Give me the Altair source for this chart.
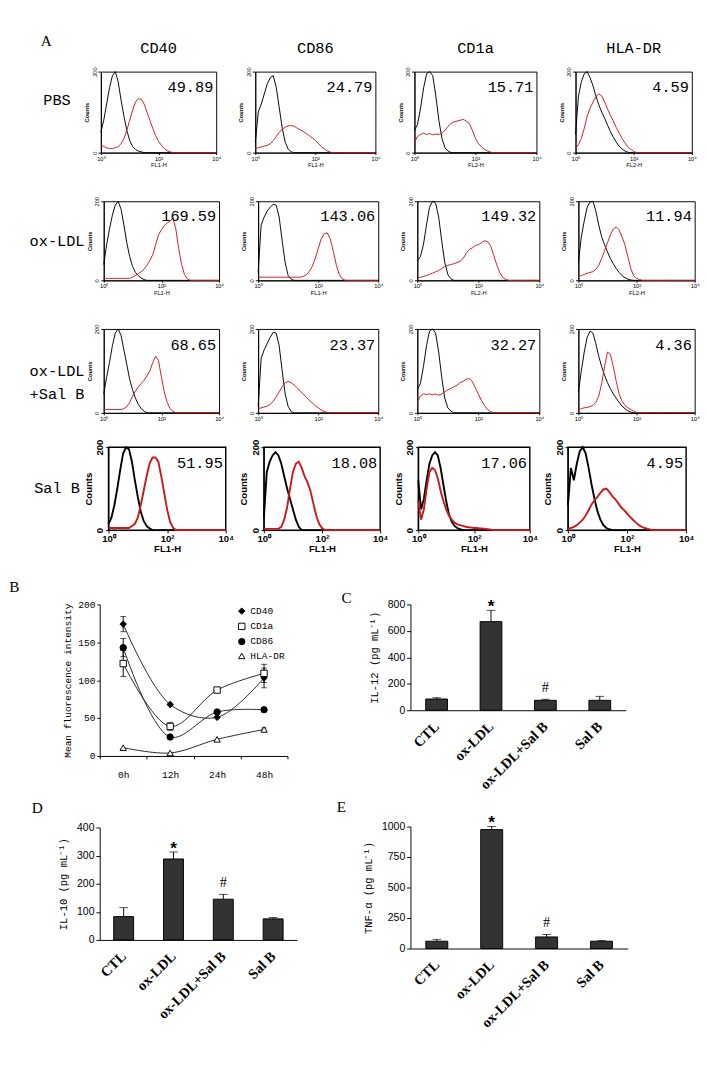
import math
import altair as alt
import pandas as pd

# ---------------- panel A : flow cytometry histograms ----------------
GRID = [0.0, 0.1, 0.2, 0.3, 0.4, 0.5, 0.6, 0.7, 0.8, 0.9,
        1.0, 1.1, 1.2, 1.3, 1.4, 1.5, 1.6, 1.7, 1.8, 1.9,
        2.0, 2.1, 2.2, 2.3, 2.4, 2.5, 2.6, 2.7, 2.8, 2.9,
        3.0, 4.0]

MARKERS = ["CD40", "CD86", "CD1a", "HLA-DR"]
TREATMENTS = ["PBS", "ox-LDL", "ox-LDL\n+Sal B", "Sal B"]

MFI_PBS = [49.89, 24.79, 15.71, 4.59]
MFI_OX = [169.59, 143.06, 149.32, 11.94]
MFI_OXS = [68.65, 23.37, 32.27, 4.36]
MFI_SAL = [51.95, 18.08, 17.06, 4.95]

XTITLES_PBS = ["FL1-H", "FL1-H", "FL2-H", "FL2-H"]
XTITLES_OX = ["FL1-H", "FL1-H", "FL2-H", "FL2-H"]
XTITLES_OXS = ["", "", "", ""]
XTITLES_SAL = ["FL1-H", "FL1-H", "FL1-H", "FL1-H"]

# PBS row
PBS_CD40_ISO = [50, 80, 120, 160, 190, 200, 175, 130, 90, 55,
                30, 15, 8, 4, 2, 0, 0, 0, 0, 0,
                0, 0, 0, 0, 0, 0, 0, 0, 0, 0, 0, 0]
PBS_CD40_MAB = [20, 15, 12, 10, 10, 12, 15, 22, 35, 55,
                80, 105, 125, 133, 132, 120, 100, 80, 60, 42,
                28, 18, 10, 5, 2, 0, 0, 0, 0, 0, 0, 0]
PBS_CD86_ISO = [25, 100, 120, 145, 170, 185, 190, 160, 110, 60,
                25, 8, 2, 0, 0, 0, 0, 0, 0, 0,
                0, 0, 0, 0, 0, 0, 0, 0, 0, 0, 0, 0]
PBS_CD86_MAB = [10, 12, 14, 16, 18, 22, 30, 40, 50, 58,
                63, 66, 67, 65, 60, 56, 52, 47, 42, 36,
                30, 23, 15, 9, 4, 1, 0, 0, 0, 0, 0, 0]
PBS_CD1A_ISO = [55, 70, 110, 160, 195, 200, 190, 140, 80, 35,
                12, 4, 0, 0, 0, 0, 0, 0, 0, 0,
                0, 0, 0, 0, 0, 0, 0, 0, 0, 0, 0, 0]
PBS_CD1A_MAB = [25, 40, 45, 48, 45, 47, 44, 46, 45, 48,
                55, 65, 72, 76, 78, 80, 82, 78, 72, 55,
                35, 22, 14, 8, 4, 1, 0, 0, 0, 0, 0, 0]
PBS_HLA_ISO = [45, 140, 175, 195, 200, 185, 165, 140, 118, 100,
               85, 68, 52, 38, 26, 16, 9, 4, 1, 0,
               0, 0, 0, 0, 0, 0, 0, 0, 0, 0, 0, 0]
PBS_HLA_MAB = [10, 20, 35, 60, 90, 110, 125, 138, 145, 140,
               125, 108, 92, 78, 62, 48, 35, 24, 14, 8,
               3, 0, 0, 0, 0, 0, 0, 0, 0, 0, 0, 0]

# ox-LDL row
OX_CD40_ISO = [40, 90, 130, 165, 190, 200, 180, 140, 95, 60,
               35, 20, 12, 6, 2, 0, 0, 0, 0, 0,
               0, 0, 0, 0, 0, 0, 0, 0, 0, 0, 0, 0]
OX_CD40_MAB = [5, 5, 5, 5, 5, 5, 5, 5, 5, 5,
               8, 12, 17, 22, 28, 38, 50, 65, 90, 115,
               128, 138, 145, 150, 158, 130, 80, 40, 15, 4, 0, 0]
OX_CD86_ISO = [20, 140, 160, 175, 185, 192, 190, 160, 100, 45,
               12, 3, 0, 0, 0, 0, 0, 0, 0, 0,
               0, 0, 0, 0, 0, 0, 0, 0, 0, 0, 0, 0]
OX_CD86_MAB = [8, 8, 8, 8, 8, 8, 8, 8, 8, 8,
               8, 8, 8, 8, 8, 10, 14, 22, 35, 55,
               80, 105, 118, 120, 105, 75, 40, 15, 4, 0, 0, 0]
OX_CD1A_ISO = [50, 60, 90, 140, 185, 200, 195, 160, 100, 45,
               15, 4, 0, 0, 0, 0, 0, 0, 0, 0,
               0, 0, 0, 0, 0, 0, 0, 0, 0, 0, 0, 0]
OX_CD1A_MAB = [5, 8, 10, 12, 15, 18, 22, 25, 30, 35,
               38, 40, 42, 45, 48, 55, 68, 78, 82, 88,
               90, 95, 100, 98, 88, 65, 40, 20, 8, 2, 0, 0]
OX_HLA_ISO = [45, 110, 150, 185, 198, 200, 175, 140, 110, 90,
              72, 55, 42, 30, 20, 12, 7, 3, 1, 0,
              0, 0, 0, 0, 0, 0, 0, 0, 0, 0, 0, 0]
OX_HLA_MAB = [10, 12, 15, 18, 20, 22, 28, 38, 55, 75,
              95, 115, 130, 135, 128, 110, 90, 60, 30, 12,
              5, 2, 0, 0, 0, 0, 0, 0, 0, 0, 0, 0]

# ox-LDL + Sal B row
OXS_CD40_ISO = [45, 85, 120, 160, 190, 200, 185, 150, 115, 80,
                55, 35, 20, 10, 4, 0, 0, 0, 0, 0,
                0, 0, 0, 0, 0, 0, 0, 0, 0, 0, 0, 0]
OXS_CD40_MAB = [8, 8, 8, 8, 8, 8, 8, 10, 15, 25,
                40, 52, 62, 70, 78, 88, 100, 120, 135, 125,
                85, 50, 25, 10, 4, 0, 0, 0, 0, 0, 0, 0]
OXS_CD86_ISO = [15, 130, 150, 165, 180, 192, 190, 160, 100, 45,
                15, 3, 0, 0, 0, 0, 0, 0, 0, 0,
                0, 0, 0, 0, 0, 0, 0, 0, 0, 0, 0, 0]
OXS_CD86_MAB = [10, 12, 14, 16, 20, 28, 38, 50, 62, 72,
                75, 72, 66, 60, 52, 45, 38, 30, 24, 17,
                12, 7, 3, 1, 0, 0, 0, 0, 0, 0, 0, 0]
OXS_CD1A_ISO = [55, 70, 110, 160, 195, 200, 190, 145, 85, 35,
                12, 4, 0, 0, 0, 0, 0, 0, 0, 0,
                0, 0, 0, 0, 0, 0, 0, 0, 0, 0, 0, 0]
OXS_CD1A_MAB = [25, 40, 45, 44, 45, 43, 45, 42, 45, 50,
                55, 58, 62, 66, 72, 75, 80, 82, 75, 60,
                45, 30, 18, 8, 3, 0, 0, 0, 0, 0, 0, 0]
OXS_HLA_ISO = [50, 100, 145, 180, 195, 190, 165, 135, 110, 90,
               72, 58, 45, 35, 25, 16, 10, 5, 2, 0,
               0, 0, 0, 0, 0, 0, 0, 0, 0, 0, 0, 0]
OXS_HLA_MAB = [8, 10, 12, 13, 15, 18, 25, 40, 70, 110,
               145, 140, 110, 75, 45, 28, 18, 12, 8, 4,
               1, 0, 0, 0, 0, 0, 0, 0, 0, 0, 0, 0]

# Sal B row
SAL_CD40_ISO = [15, 30, 60, 100, 145, 185, 200, 195, 165, 120,
                80, 45, 22, 10, 4, 0, 0, 0, 0, 0,
                0, 0, 0, 0, 0, 0, 0, 0, 0, 0, 0, 0]
SAL_CD40_MAB = [5, 5, 5, 5, 5, 5, 5, 5, 10, 15,
                30, 60, 95, 130, 160, 175, 175, 165, 130, 90,
                50, 20, 6, 0, 0, 0, 0, 0, 0, 0, 0, 0]
SAL_CD86_ISO = [30, 140, 165, 180, 188, 180, 160, 130, 100, 75,
                50, 25, 8, 0, 0, 0, 0, 0, 0, 0,
                0, 0, 0, 0, 0, 0, 0, 0, 0, 0, 0, 0]
SAL_CD86_MAB = [3, 3, 3, 3, 3, 3, 8, 25, 55, 100,
                140, 160, 165, 150, 130, 115, 95, 65, 35, 15,
                5, 0, 0, 0, 0, 0, 0, 0, 0, 0, 0, 0]
SAL_CD1A_ISO = [120, 50, 75, 120, 160, 180, 188, 180, 150, 110,
                70, 38, 20, 10, 5, 2, 0, 0, 0, 0,
                0, 0, 0, 0, 0, 0, 0, 0, 0, 0, 0, 0]
SAL_CD1A_MAB = [70, 25, 50, 100, 140, 150, 145, 125, 95, 70,
                50, 35, 25, 18, 14, 12, 10, 8, 7, 6,
                5, 5, 4, 4, 3, 2, 1, 0, 0, 0, 0, 0]
SAL_HLA_ISO = [60, 150, 120, 160, 190, 200, 185, 150, 110, 75,
               45, 25, 12, 5, 2, 0, 0, 0, 0, 0,
               0, 0, 0, 0, 0, 0, 0, 0, 0, 0, 0, 0]
SAL_HLA_MAB = [3, 5, 8, 12, 18, 25, 35, 48, 62, 72,
               80, 90, 98, 100, 92, 82, 75, 65, 55, 48,
               40, 32, 25, 18, 12, 8, 5, 3, 1, 0, 0, 0]

# ---------------- panel B : MFI time course ----------------
TIMES = ["0h", "12h", "24h", "48h"]
B_MARKERS = ["CD40", "CD1a", "CD86", "HLA-DR"]
B_CD40 = [174, 68, 51, 103]
B_CD1A = [122, 39, 87, 109]
B_CD86 = [143, 25, 58, 61]
B_HLADR = [11, 4, 22, 35]
B_CD40_ERR = [10, 0, 0, 13]
B_CD1A_ERR = [17, 5, 0, 12]
B_CD86_ERR = [12, 0, 0, 0]
B_HLADR_ERR = [0, 0, 0, 2]

# ---------------- panels C, D, E : cytokines ----------------
GROUPS = ["CTL", "ox-LDL", "ox-LDL+Sal B", "Sal B"]
SIGNIF = ["", "*", "#", ""]
IL12 = [85, 670, 75, 75]
IL12_ERR = [10, 85, 8, 30]
IL10 = [83, 288, 145, 75]
IL10_ERR = [32, 25, 17, 5]
TNFA = [60, 975, 95, 60]
TNFA_ERR = [15, 25, 20, 5]

# ---------------- build ----------------
CURVES = [
    [(PBS_CD40_ISO, PBS_CD40_MAB), (PBS_CD86_ISO, PBS_CD86_MAB),
     (PBS_CD1A_ISO, PBS_CD1A_MAB), (PBS_HLA_ISO, PBS_HLA_MAB)],
    [(OX_CD40_ISO, OX_CD40_MAB), (OX_CD86_ISO, OX_CD86_MAB),
     (OX_CD1A_ISO, OX_CD1A_MAB), (OX_HLA_ISO, OX_HLA_MAB)],
    [(OXS_CD40_ISO, OXS_CD40_MAB), (OXS_CD86_ISO, OXS_CD86_MAB),
     (OXS_CD1A_ISO, OXS_CD1A_MAB), (OXS_HLA_ISO, OXS_HLA_MAB)],
    [(SAL_CD40_ISO, SAL_CD40_MAB), (SAL_CD86_ISO, SAL_CD86_MAB),
     (SAL_CD1A_ISO, SAL_CD1A_MAB), (SAL_HLA_ISO, SAL_HLA_MAB)],
]
MFI = [MFI_PBS, MFI_OX, MFI_OXS, MFI_SAL]
XTITLES = [XTITLES_PBS, XTITLES_OX, XTITLES_OXS, XTITLES_SAL]

MONO = "Liberation Mono"
SERIF = "Liberation Serif"
SANS = "Liberation Sans"
RED = "#cc1a1a"

LABX = ("datum.value == 0 ? '10\u2070' : datum.value == 1 ? '10\u00b9' : "
        "datum.value == 2 ? '10\u00b2' : datum.value == 3 ? '10\u00b3' : '10\u2074'")

ROW_W = [[121, 126, 128, 122], [121, 126, 128, 122], [121, 126, 128, 122], [123, 122, 117, 124]]
ROW_H = [85, 83, 88, 87]
ROW_SPACING = [16, 16, 16, 4]


def header_title(text):
    return alt.TitleParams(text, font=MONO, fontSize=16, fontWeight="normal",
                           frame="group", offset=12, color="black")


def hist(r, c):
    big = r == 3
    iso, mab = CURVES[r][c]
    n = len(GRID)
    df = pd.DataFrame({"x": GRID + GRID, "y": list(iso) + list(mab),
                       "curve": ["iso"] * n + ["mab"] * n})
    fs = 10 if big else 6
    fw = "bold" if big else "normal"
    xt = XTITLES[r][c]
    xaxis = alt.Axis(values=[0, 1, 2, 3, 4], labelExpr=LABX, labelOverlap=False,
                     labelSeparation=-40, labelFlush=False, tickSize=3 if big else 2,
                     labelFont=SANS, labelFontSize=fs, labelFontWeight=fw, labelPadding=1,
                     title=xt if xt else None, titleFont=SANS, titleFontSize=fs,
                     titleFontWeight=fw, titlePadding=1, grid=False)
    yaxis = alt.Axis(values=[0, 200], labelOverlap=False, labelSeparation=-40,
                     labelFlush=False, labelAngle=-90, labelAlign="center",
                     labelBaseline="bottom", tickSize=3,
                     labelFont=SANS, labelFontSize=fs, labelFontWeight="bold" if big else "normal",
                     labelPadding=1, title="Counts", titleFont=SANS, titleFontSize=fs,
                     titleFontWeight="bold", titlePadding=2, grid=False)
    xs = alt.Scale(domain=[0, 4], nice=False, zero=False)
    ys = alt.Scale(domain=[0, 200], nice=False)
    x = alt.X("x:Q", scale=xs, axis=xaxis)
    y = alt.Y("y:Q", scale=ys, axis=yaxis)
    sw = 2 if big else 1
    base = alt.Chart(df)
    l_iso = base.transform_filter(alt.datum.curve == "iso").mark_line(
        color="black", strokeWidth=sw).encode(x=x, y=y)
    l_mab = base.transform_filter(alt.datum.curve == "mab").mark_line(
        color=RED, strokeWidth=sw).encode(x=x, y=y)
    txt = alt.Chart(pd.DataFrame({"mfi": [MFI[r][c]]})).mark_text(
        font=MONO, fontSize=16, align="right", baseline="middle", color="black"
    ).encode(x=alt.datum(3.9), y=alt.datum(162), text=alt.Text("mfi:Q", format=".2f"))
    props = dict(width=ROW_W[r][c], height=ROW_H[r],
                 view=alt.ViewBackground(stroke="black", strokeWidth=1.5 if big else 1))
    if r == 0:
        props["title"] = header_title(MARKERS[c])
    return alt.layer(l_iso, l_mab, txt).properties(**props)


def row_label(r):
    df = pd.DataFrame({"t": [TREATMENTS[r]]})
    props = dict(width=56, height=ROW_H[r])
    ypos = ROW_H[r] / 2
    if r == 0:
        props["title"] = alt.TitleParams("A", anchor="start", font=SERIF, fontSize=16,
                                         fontWeight="normal", offset=24, dx=13,
                                         frame="group", color="black")
        ypos = ROW_H[r] / 2 - 12
    return alt.Chart(df).mark_text(
        font=MONO, fontSize=16, lineBreak="\n", lineHeight=24, align="center",
        baseline="middle", color="black"
    ).encode(text="t:N", x=alt.value(30), y=alt.value(ypos)).properties(**props)


rows = []
for r in range(4):
    panels = alt.hconcat(*[hist(r, c) for c in range(4)], spacing=ROW_SPACING[r])
    rows.append(alt.hconcat(row_label(r), panels, spacing=0))

panelA = alt.vconcat(alt.vconcat(rows[0], rows[1], rows[2], spacing=28), rows[3], spacing=16)

# ---- panel B
recs = []
for name, vals, errs in [("CD40", B_CD40, B_CD40_ERR), ("CD1a", B_CD1A, B_CD1A_ERR),
                         ("CD86", B_CD86, B_CD86_ERR), ("HLA-DR", B_HLADR, B_HLADR_ERR)]:
    for t, v, e in zip(TIMES, vals, errs):
        recs.append({"time": t, "marker": name, "value": v, "err": e,
                     "lo": v - e, "hi": v + e})
dfB = pd.DataFrame(recs)
xB = alt.X("time:N", sort=TIMES, scale=alt.Scale(type="band", paddingInner=0, paddingOuter=0),
           axis=alt.Axis(title=None, labelAngle=0, tickBand="extent", tickSize=3, labelPadding=12,
                         labelFont=MONO, labelFontSize=10, domainColor="black"))
yaxB = alt.Axis(values=[0, 50, 100, 150, 200], title="Mean fluorescence intensity",
                titleFont=MONO, titleFontSize=10, titleFontWeight="normal", titlePadding=6,
                labelFont=MONO, labelFontSize=10, tickSize=3, grid=False)
ysB = alt.Scale(domain=[0, 200], nice=False)
baseB = alt.Chart(dfB)
linesB = baseB.mark_line(interpolate="catmull-rom", color="#222222", strokeWidth=1).encode(
    x=xB, y=alt.Y("value:Q", scale=ysB, axis=yaxB), detail="marker:N")
legB = alt.Legend(title=None, orient="top-right", offset=2, labelFont=MONO, labelFontSize=10,
                  symbolStrokeWidth=1, symbolSize=45, rowPadding=4)
ptsB = baseB.mark_point(filled=True, size=45, strokeWidth=1, opacity=1).encode(
    x=xB, y=alt.Y("value:Q", scale=ysB, axis=yaxB),
    shape=alt.Shape("marker:N", sort=B_MARKERS,
                    scale=alt.Scale(domain=B_MARKERS,
                                    range=["diamond", "square", "circle", "triangle-up"]),
                    legend=legB),
    fill=alt.Fill("marker:N", sort=B_MARKERS,
                  scale=alt.Scale(domain=B_MARKERS, range=["black", "white", "black", "white"]),
                  legend=legB),
    stroke=alt.Stroke("marker:N", sort=B_MARKERS,
                      scale=alt.Scale(domain=B_MARKERS, range=["black", "black", "black", "black"]),
                      legend=legB))
errB = baseB.transform_filter(alt.datum.err > 0)
ruleB = errB.mark_rule(color="black").encode(
    x=xB, y=alt.Y("lo:Q", scale=ysB, axis=yaxB), y2="hi:Q")
capLoB = errB.mark_tick(color="black", thickness=1, size=6).encode(
    x=xB, y=alt.Y("lo:Q", scale=ysB, axis=yaxB))
capHiB = errB.mark_tick(color="black", thickness=1, size=6).encode(
    x=xB, y=alt.Y("hi:Q", scale=ysB, axis=yaxB))
panelB = alt.layer(ruleB, capLoB, capHiB, linesB, ptsB).properties(
    width=197, height=159,
    title=alt.TitleParams("B", anchor="start", font=SERIF, fontSize=16, fontWeight="normal",
                          offset=5, dx=-56, color="black"))


def bar_panel(vals, errs, ymax, ystep, ytitle, w, h, letter, tdx, toff, tdy):
    df = pd.DataFrame({"group": GROUPS, "value": vals, "err": errs, "sig": SIGNIF})
    df["top"] = df["value"] + df["err"]
    x = alt.X("group:N", sort=GROUPS, scale=alt.Scale(paddingInner=0.6, paddingOuter=0.28),
              axis=alt.Axis(title=None, labelAngle=-45, labelAlign="right",
                            labelBaseline="middle", labelFont=SERIF, labelFontWeight="bold",
                            labelFontSize=15, ticks=False, labelPadding=14,
                            domainColor="black"))
    ys = alt.Scale(domain=[0, ymax], nice=False)
    yax = alt.Axis(values=list(range(0, ymax + 1, ystep)), format="d", title=ytitle,
                   titleFont=MONO, titleFontSize=11, titleFontWeight="normal", titlePadding=8,
                   labelFont=SANS, labelFontSize=11, tickSize=4, grid=False)
    base = alt.Chart(df)
    bars = base.mark_bar(fill="#333333", stroke="black", strokeWidth=1).encode(
        x=x, y=alt.Y("value:Q", scale=ys, axis=yax))
    rule = base.mark_rule(color="black").encode(
        x=x, y=alt.Y("value:Q", scale=ys, axis=yax), y2="top:Q")
    cap = base.mark_tick(color="black", thickness=1, size=9).encode(
        x=x, y=alt.Y("top:Q", scale=ys, axis=yax))
    star = base.transform_filter(alt.datum.sig == "*").mark_text(
        font=SANS, fontSize=18, fontWeight="bold", baseline="alphabetic", dy=2, color="black"
    ).encode(x=x, y=alt.Y("top:Q", scale=ys, axis=yax), text="sig:N")
    hsh = base.transform_filter(alt.datum.sig == "#").mark_text(
        font=SERIF, fontSize=15, baseline="alphabetic", dy=-8, color="black"
    ).encode(x=x, y=alt.Y("top:Q", scale=ys, axis=yax), text="sig:N")
    return alt.layer(bars, rule, cap, star, hsh).properties(
        width=w, height=h,
        title=alt.TitleParams(letter, anchor="start", font=SERIF, fontSize=16,
                              fontWeight="normal", offset=toff, dx=tdx, dy=tdy, color="black"))


panelC = bar_panel(IL12, IL12_ERR, 800, 200, "IL-12 (pg mL\u207b\u00b9)", 226, 111, "C", -29, 0, 7)
panelD = bar_panel(IL10, IL10_ERR, 400, 100, "IL-10 (pg mL\u207b\u00b9)", 207, 118, "D", -28, 6, 0)
panelE = bar_panel(TNFA, TNFA_ERR, 1000, 250, "TNF-\u03b1 (pg mL\u207b\u00b9)", 228, 128, "E", -28, 0, 0)

left = alt.vconcat(panelB, panelD, spacing=20).resolve_legend(
    shape="independent", fill="independent", stroke="independent")
right = alt.vconcat(panelC, panelE, spacing=6)
bottom = alt.hconcat(left, right, spacing=40).resolve_legend(
    shape="independent", fill="independent", stroke="independent")

chart = alt.vconcat(panelA, bottom, spacing=25, center=True).resolve_legend(
    shape="independent", fill="independent", stroke="independent").properties(
    padding=0).configure(font=SANS).configure_view(stroke="transparent").configure_axis(
    domainColor="black", tickColor="black", labelColor="black", titleColor="black", grid=False)

chart.save("out.html", embed_options={"renderer": "svg", "actions": False})
